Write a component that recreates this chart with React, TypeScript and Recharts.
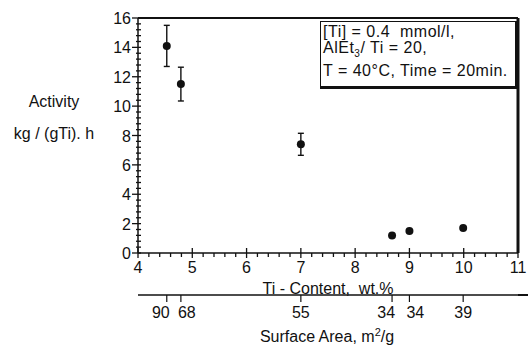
import React from "react"
import {
  ScatterChart,
  Scatter,
  XAxis,
  YAxis,
  ErrorBar,
  ReferenceLine,
} from "recharts"

// Ti content (wt.%) of each catalyst, with measured activity and error
const tiContent = [4.53, 4.79, 7.0, 8.68, 9.0, 9.99]
const activity = [14.1, 11.5, 7.4, 1.2, 1.5, 1.7]
const activityErr = [1.4, 1.15, 0.75, 0, 0, 0]
const surfaceArea = [90, 68, 55, 34, 34, 39]

const xTicks = [4, 5, 6, 7, 8, 9, 10, 11]
const yTicks = [0, 2, 4, 6, 8, 10, 12, 14, 16]

const data = tiContent.map((x, i) => ({
  x,
  y: activity[i],
  err: activityErr[i] > 0 ? activityErr[i] : undefined,
}))

const FONT = "'Liberation Sans', Arial, sans-serif"
const INK = "#111"

// minor ticks: 5 steps between x labels, 5 steps between y labels
const minorX: number[] = []
for (let i = 0; i < xTicks.length - 1; i++) {
  const step = (xTicks[i + 1] - xTicks[i]) / 5
  for (let k = 0; k < 5; k++) minorX.push(+(xTicks[i] + k * step).toFixed(3))
}
minorX.push(xTicks[xTicks.length - 1])
const minorY: number[] = []
for (let i = 0; i < yTicks.length - 1; i++) {
  const step = (yTicks[i + 1] - yTicks[i]) / 5
  for (let k = 0; k < 5; k++) minorY.push(+(yTicks[i] + k * step).toFixed(3))
}
minorY.push(yTicks[yTicks.length - 1])

const XTick = (props: any) => {
  const { x, y, payload } = props
  const major = xTicks.includes(payload.value)
  return (
    <g>
      <line
        x1={x}
        x2={x}
        y1={major ? y - 5 : y}
        y2={major ? y + 5 : y + 4}
        stroke={INK}
        strokeWidth={1.3}
      />
      {major && (
        <text x={x} y={y + 20} textAnchor="middle" fontSize={16} fontFamily={FONT} fill={INK}>
          {payload.value}
        </text>
      )}
    </g>
  )
}

const YTick = (props: any) => {
  const { x, y, payload } = props
  const major = yTicks.includes(payload.value)
  return (
    <g>
      <line
        x1={major ? x - 6 : x - 2}
        x2={x + 3}
        y1={y}
        y2={y}
        stroke={INK}
        strokeWidth={1.3}
      />
      {major && (
        <text x={x - 7} y={y + 6} textAnchor="end" fontSize={16} fontFamily={FONT} fill={INK}>
          {payload.value}
        </text>
      )}
    </g>
  )
}

// surface-area ticks; crowded neighbours push their labels apart
const SATick = (props: any) => {
  const { x, y, payload } = props
  const i = tiContent.indexOf(payload.value)
  const nextClose = i < tiContent.length - 1 && tiContent[i + 1] - tiContent[i] < 0.4
  const prevClose = i > 0 && tiContent[i] - tiContent[i - 1] < 0.4
  let anchor: "start" | "middle" | "end" = "middle"
  let tx = x
  if (nextClose) {
    anchor = "end"
    tx = x + 3
  } else if (prevClose) {
    anchor = "start"
    tx = x - 3
  }
  return (
    <g>
      <line x1={x} x2={x} y1={y - 9} y2={y - 2} stroke={INK} strokeWidth={1.2} />
      <text x={tx} y={y + 14} textAnchor={anchor} fontSize={16} fontFamily={FONT} fill={INK}>
        {surfaceArea[i]}
      </text>
    </g>
  )
}

const Dot = (props: any) => {
  const { cx, cy } = props
  return <circle cx={cx} cy={cy} r={4} fill={INK} />
}

export default function App() {
  return (
    <div style={{ position: "absolute", left: 0, top: 0, width: 528, height: 345, background: "#fff" }}>
      <ScatterChart
        width={528}
        height={345}
        margin={{ top: 18, right: 10, bottom: 0, left: 0 }}
      >
        <XAxis
          dataKey="x"
          type="number"
          domain={[4, 11]}
          ticks={minorX}
          interval={0}
          allowDataOverflow
          height={42}
          tickSize={0}
          tickMargin={0}
          tick={<XTick />}
          axisLine={{ stroke: INK, strokeWidth: 1.5 }}
          label={{
            content: () => (
              <text
                x={328}
                y={294}
                textAnchor="middle"
                fontSize={16}
                fontFamily={FONT}
                fill={INK}
                style={{ whiteSpace: "pre" }}
              >
                {"Ti - Content,  wt.%"}
              </text>
            ),
          }}
        />
        <XAxis
          xAxisId="sa"
          dataKey="x"
          type="number"
          domain={[4, 11]}
          ticks={tiContent}
          interval={0}
          allowDataOverflow
          height={50}
          tickSize={7}
          tickMargin={2}
          tickLine={false}
          tick={<SATick />}
          axisLine={{ stroke: INK, strokeWidth: 1.5 }}
          label={{
            content: () => (
              <text x={327} y={342} textAnchor="middle" fontSize={16} fontFamily={FONT} fill={INK}>
                Surface Area, m<tspan dy={-6} fontSize={11}>2</tspan>
                <tspan dy={6}>/g</tspan>
              </text>
            ),
          }}
        />
        <YAxis
          dataKey="y"
          type="number"
          domain={[0, 16]}
          ticks={minorY}
          interval={0}
          allowDataOverflow
          width={138}
          tickSize={0}
          tickMargin={0}
          tick={<YTick />}
          axisLine={{ stroke: INK, strokeWidth: 1.5 }}
          label={{
            content: () => (
              <g fontFamily={FONT} fontSize={16} fill={INK}>
                <text x={54} y={107} textAnchor="middle">Activity</text>
                <text x={54} y={139} textAnchor="middle">kg / (gTi). h</text>
              </g>
            ),
          }}
        />
        <ReferenceLine y={16} stroke={INK} strokeWidth={2} />
        <ReferenceLine x={11} stroke={INK} strokeWidth={3} />
        <Scatter data={data} shape={<Dot />} isAnimationActive={false}>
          <ErrorBar dataKey="err" direction="y" width={3} stroke={INK} strokeWidth={1.4} />
        </Scatter>
        <Scatter
          data={data}
          xAxisId="sa"
          shape={() => <g />}
          isAnimationActive={false}
        />
      </ScatterChart>
      {/* surface-area axis runs on to the page edge */}
      <div
        style={{
          position: "absolute",
          left: 518,
          top: 294,
          width: 10,
          height: 1.5,
          background: INK,
        }}
      />
      <div
        style={{
          position: "absolute",
          left: 320,
          top: 21,
          width: 194,
          height: 64,
          border: "1.5px solid #111",
          borderRightWidth: 3,
          borderBottomWidth: 3,
          background: "#fff",
          fontFamily: FONT,
          fontSize: 16,
          letterSpacing: 0.5,
          color: INK,
          lineHeight: "16px",
        }}
      >
        <div style={{ position: "absolute", left: 2, top: 2, whiteSpace: "pre" }}>
          {"[Ti] = 0.4  mmol/l,"}
        </div>
        <div style={{ position: "absolute", left: 2, top: 18, whiteSpace: "pre" }}>
          AlEt<sub style={{ fontSize: 10, lineHeight: 0 }}>3</sub>/ Ti = 20,
        </div>
        <div style={{ position: "absolute", left: 2, top: 41, whiteSpace: "pre" }}>
          T = 40°C, Time = 20min.
        </div>
      </div>
    </div>
  )
}
